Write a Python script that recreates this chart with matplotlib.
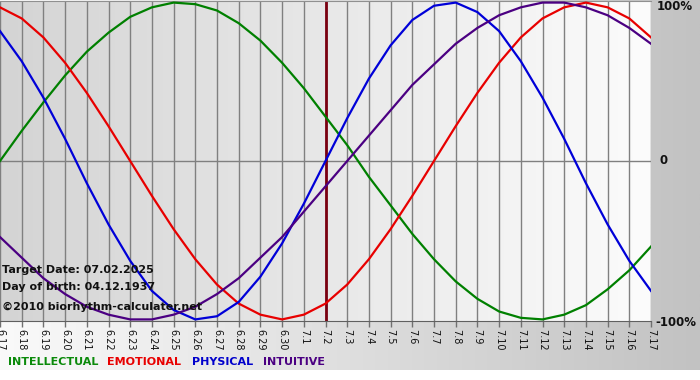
import numpy as np
import matplotlib
matplotlib.use('Agg')
import matplotlib.pyplot as plt
from matplotlib.colors import LinearSegmentedColormap

# ---- data ----
days = list(range(31))
date_labels = ['6.17', '6.18', '6.19', '6.20', '6.21', '6.22', '6.23', '6.24',
               '6.25', '6.26', '6.27', '6.28', '6.29', '6.30', '7.1', '7.2',
               '7.3', '7.4', '7.5', '7.6', '7.7', '7.8', '7.9', '7.10', '7.11',
               '7.12', '7.13', '7.14', '7.15', '7.16', '7.17']
intellectual = [0.00, 0.19, 0.37, 0.54, 0.69, 0.81, 0.91, 0.97, 1.00, 0.99,
                0.95, 0.87, 0.76, 0.62, 0.46, 0.28, 0.10, -0.10, -0.28, -0.46,
                -0.62, -0.76, -0.87, -0.95, -0.99, -1.00, -0.97, -0.91, -0.81,
                -0.69, -0.54]
emotional = [0.97, 0.90, 0.78, 0.62, 0.43, 0.22, 0.00, -0.22, -0.43, -0.62,
             -0.78, -0.90, -0.97, -1.00, -0.97, -0.90, -0.78, -0.62, -0.43,
             -0.22, 0.00, 0.22, 0.43, 0.62, 0.78, 0.90, 0.97, 1.00, 0.97,
             0.90, 0.78]
physical = [0.82, 0.63, 0.40, 0.14, -0.14, -0.40, -0.63, -0.82, -0.94, -1.00,
            -0.98, -0.89, -0.73, -0.52, -0.27, 0.00, 0.27, 0.52, 0.73, 0.89,
            0.98, 1.00, 0.94, 0.82, 0.63, 0.40, 0.14, -0.14, -0.40, -0.63,
            -0.82]
intuitive = [-0.48, -0.61, -0.74, -0.84, -0.92, -0.97, -1.00, -1.00, -0.97,
             -0.92, -0.84, -0.74, -0.61, -0.48, -0.32, -0.16, 0.00, 0.16, 0.32,
             0.48, 0.61, 0.74, 0.84, 0.92, 0.97, 1.00, 1.00, 0.97, 0.92, 0.84,
             0.74]
target_index = 15
y_labels = ['100%', '0', '-100%']
legend_names = ['INTELLECTUAL', 'EMOTIONAL', 'PHYSICAL', 'INTUITIVE']
info_lines = ['Target Date: 07.02.2025', 'Day of birth: 04.12.1937',
              '\u00a92010 biorhythm-calculater.net']

# ---- styles ----
c_int, c_emo, c_phy, c_itu = '#008000', '#e80000', '#0000d8', '#4b0082'
legend_colors = ['#0a8a0a', '#e80000', '#0000cc', '#4b0082']

W, H = 700, 380
fig = plt.figure(figsize=(7, 3.8), dpi=100)
fig.patch.set_facecolor('white')

# outer gray panel (gradient light -> gray, left to right)
bg = fig.add_axes([0, 10 / H, 1, 1 - 10 / H])
bg.set_axis_off()
grad = np.linspace(0, 1, 256).reshape(1, -1)
bg.imshow(grad, aspect='auto', extent=[0, 1, 0, 1],
          cmap=LinearSegmentedColormap.from_list('bg', ['#fafafa', '#c2c2c2']))
bg.set_xlim(0, 1)
bg.set_ylim(0, 1)

# main plot area
ax = fig.add_axes([0, 59 / H, 651 / W, 320 / H])
ylo, yhi = -1.01, 1.01
ax.imshow(grad, aspect='auto', extent=[days[0], days[-1], ylo, yhi], zorder=0,
          cmap=LinearSegmentedColormap.from_list('pa', ['#d4d4d4', '#fcfcfc']))
ax.vlines(days, ylo, yhi, color='#808080', lw=1.0, zorder=1)
ax.axhline(0, color='#808080', lw=1.0, zorder=1)
ax.axvline(days[target_index], color='#7a0010', lw=2.0, zorder=2)

for ser, col in [(intellectual, c_int), (emotional, c_emo),
                 (physical, c_phy), (intuitive, c_itu)]:
    ax.plot(days, ser, color=col, lw=1.6, zorder=3, solid_joinstyle='round')

ax.set_xlim(days[0], days[-1])
ax.set_ylim(ylo, yhi)
ax.set_xticks(days)
ax.set_xticklabels(date_labels, rotation=270, fontsize=7, color='#111111')
ax.tick_params(axis='x', length=4, width=1, color='#707070', pad=2)
ax.set_yticks([])
for s in ['left', 'right']:
    ax.spines[s].set_visible(False)
ax.spines['top'].set_color('#909090')
ax.spines['bottom'].set_color('#606060')

# right-hand percent labels
for lab, ypx, xpx in zip(y_labels, [7, 161, 322], [657, 660, 655]):
    fig.text(xpx / W, 1 - ypx / H, lab, ha='left', va='center',
             fontsize=8.5, fontweight='bold', color='#111111')

# info texts inside plot
for txt, ypx in zip(info_lines, [270, 287, 307]):
    fig.text(2 / W, 1 - ypx / H, txt, ha='left', va='center', fontsize=8,
             fontweight='bold', color='#111111', zorder=10)

# legend words
for name, col, xpx in zip(legend_names, legend_colors, [8, 107, 192, 263]):
    fig.text(xpx / W, 1 - 362 / H, name, ha='left', va='center', fontsize=8,
             fontweight='bold', color=col)

fig.savefig('out.png', dpi=100)
